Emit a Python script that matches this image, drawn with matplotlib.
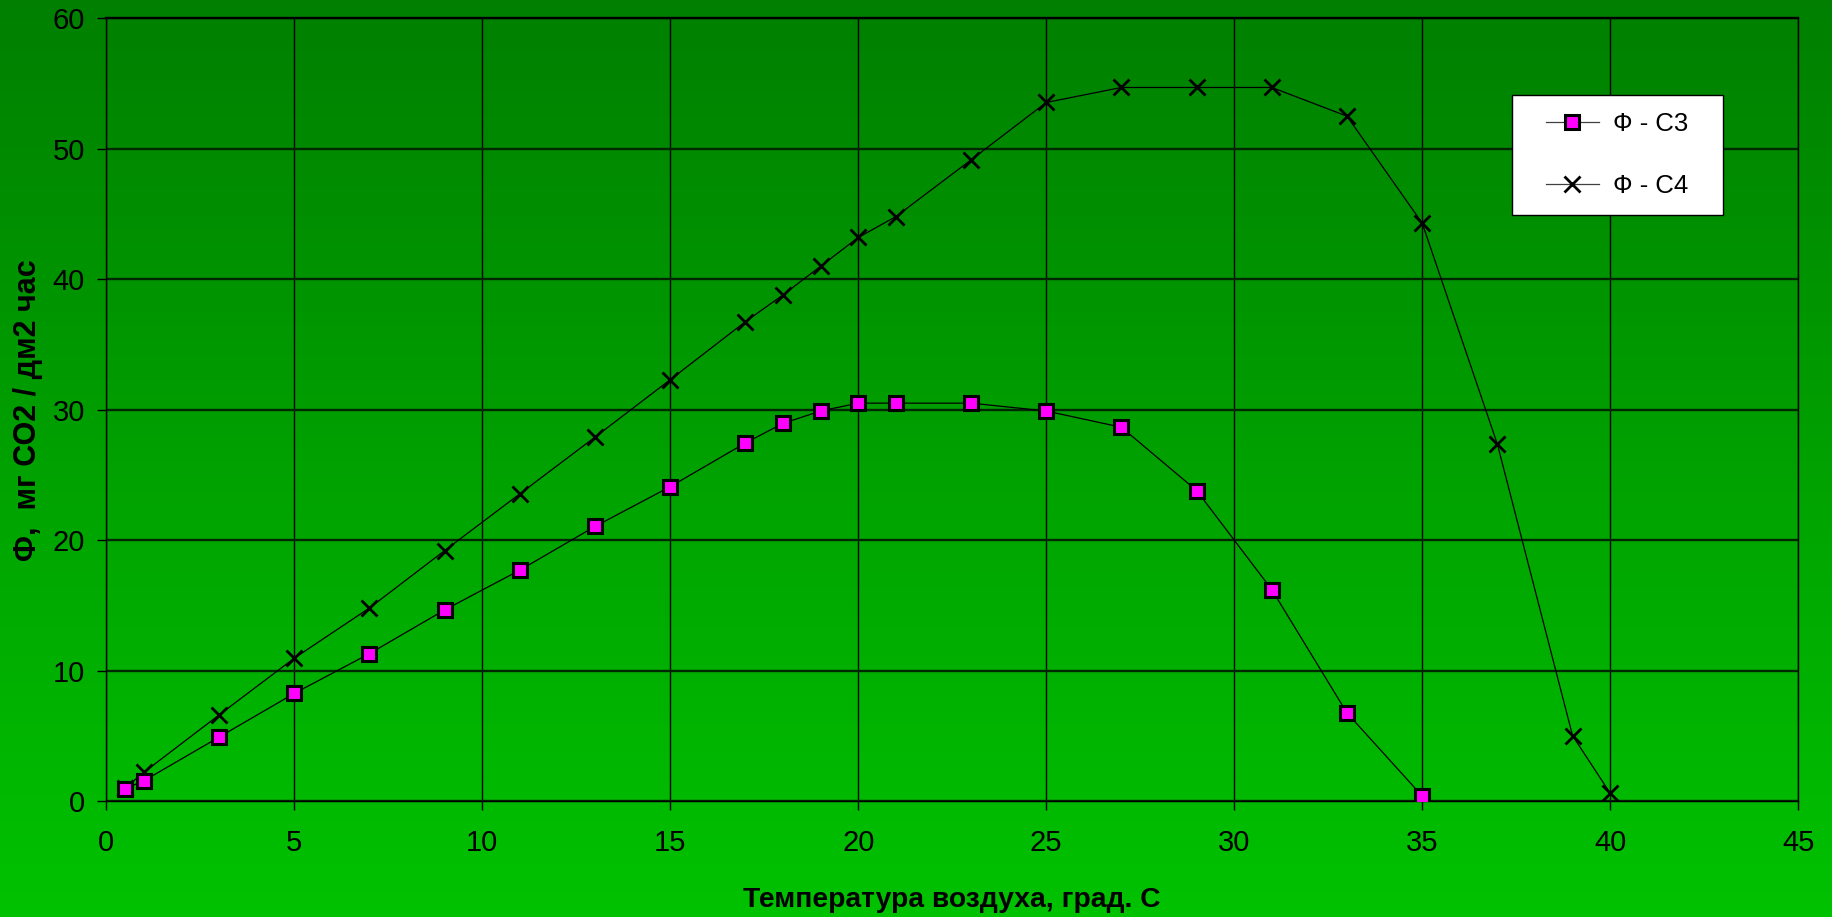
import numpy as np
import matplotlib
matplotlib.use("Agg")
import matplotlib.pyplot as plt
from matplotlib.patches import Rectangle

plt.rcParams['font.family'] = ['Liberation Sans', 'DejaVu Sans']

# air temperature, deg C
temp_c3 = [0.5, 1, 3, 5, 7, 9, 11, 13, 15, 17, 18, 19, 20, 21, 23, 25, 27, 29, 31, 33, 35]
phi_c3 = [0.95, 1.55, 4.9, 8.25, 11.3, 14.65, 17.7, 21.05, 24.1, 27.45, 28.95, 29.9, 30.5, 30.5,
          30.5, 29.9, 28.65, 23.8, 16.2, 6.75, 0.38]

temp_c4 = [0.5, 1, 3, 5, 7, 9, 11, 13, 15, 17, 18, 19, 20, 21, 23, 25, 27, 29, 31, 33, 35, 37, 39, 40]
phi_c4 = [1.0, 2.2, 6.6, 10.95, 14.8, 19.2, 23.55, 27.9, 32.3, 36.75, 38.8, 41.0, 43.2, 44.8,
          49.15, 53.55, 54.7, 54.7, 54.7, 52.5, 44.3, 27.35, 5.0, 0.6]

x_ticks = list(range(0, 50, 5))
y_ticks = list(range(0, 70, 10))

W, H = 1833, 917
fig = plt.figure(figsize=(W / 100, H / 100), dpi=100)

# green gradient background over the whole figure
bg = fig.add_axes([0, 0, 1, 1], zorder=-10)
grad = np.linspace(0, 1, 256).reshape(-1, 1)
top = np.array([0.0, 0.50, 0.0])
bottom = np.array([0.0, 0.76, 0.0])
img = top + grad[..., None] * (bottom - top)
bg.imshow(img, aspect='auto', extent=[0, 1, 0, 1])
bg.axis('off')

ax = fig.add_axes([0.058, 0.1265, 0.923, 0.8535])
ax.set_facecolor('none')

ax.plot(temp_c3, phi_c3, color='black', lw=0.9, marker='s', markersize=10,
        markerfacecolor='#ff00ff', markeredgecolor='black', markeredgewidth=2.2,
        label='Ф - С3', zorder=5)
ax.plot(temp_c4, phi_c4, color='black', lw=0.9, marker='x', markersize=11,
        markeredgewidth=2.0, label='Ф - С4', zorder=4)

ax.set_xlim(0, 45)
ax.set_ylim(0, 60)
ax.set_xticks(x_ticks)
ax.set_yticks(y_ticks)

ax.grid(True, axis='x', color='black', lw=1.0)
ax.grid(True, axis='y', color='#002800', lw=1.7)
for s in ax.spines.values():
    s.set_color('black')
    s.set_linewidth(1.0)
ax.spines['top'].set_linewidth(1.7)

ax.tick_params(axis='both', direction='out', length=6.5, width=1.0, color='black',
               labelsize=21, labelcolor='black')
ax.tick_params(axis='x', pad=14)
ax.tick_params(axis='y', pad=9)

ax.set_xlabel('Температура воздуха, град. С', fontsize=20.3, fontweight='bold', labelpad=21)
ax.set_ylabel('Ф,  мг СО2 / дм2 час', fontsize=22, fontweight='bold', labelpad=7)

# white legend frame drawn separately, legend entries on top of it
frame = Rectangle((1512 / W, 1 - 215 / H), 211 / W, 120 / H, transform=fig.transFigure,
                  facecolor='white', edgecolor='black', lw=1.0, clip_on=False, zorder=8)
ax.add_patch(frame)

leg = ax.legend(loc='upper left', bbox_to_anchor=(1546 / W, 1 - 112 / H),
                bbox_transform=fig.transFigure, borderaxespad=0, borderpad=0,
                frameon=False, fontsize=18.5, labelspacing=1.47,
                handlelength=2.05, handletextpad=0.55)
leg.set_zorder(9)
for h in leg.get_lines():
    h.set_color('#404040')
    h.set_markeredgecolor('black')

fig.savefig('out.png', dpi=100)
